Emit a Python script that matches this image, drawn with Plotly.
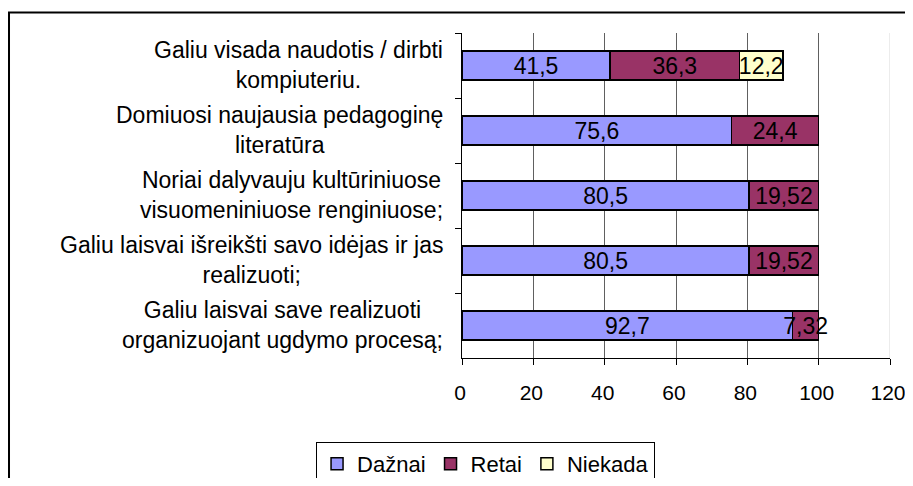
import plotly.graph_objects as go

categories = [
    "Galiu visada naudotis / dirbti<br>kompiuteriu.",
    "Domiuosi naujausia pedagoginę<br>literatūra",
    "Noriai dalyvauju kultūriniuose<br>visuomeniniuose renginiuose;",
    "Galiu laisvai išreikšti savo idėjas ir jas<br>realizuoti;",
    "Galiu laisvai save realizuoti<br>organizuojant ugdymo procesą;",
]
cat_ids = ["c1", "c2", "c3", "c4", "c5"]
daznai = [41.5, 75.6, 80.5, 80.5, 92.7]
retai = [36.3, 24.4, 19.52, 19.52, 7.32]
niekada = [12.2, None, None, None, None]
series_names = ["Dažnai", "Retai", "Niekada"]
series_colors = ["#9999FF", "#993366", "#FFFFCC"]
x_ticks = [0, 20, 40, 60, 80, 100, 120]

FONT = "Liberation Sans, Arial, sans-serif"


def fmt(v):
    return "" if v is None else str(v).replace(".", ",")


fig = go.Figure()
for name, vals, col in zip(series_names, [daznai, retai, niekada], series_colors):
    fig.add_trace(go.Bar(
        y=cat_ids, x=vals, name=name, orientation="h",
        marker=dict(color=col, line=dict(color="black", width=1.5)),
        text=[fmt(v) for v in vals], textposition="inside",
        insidetextanchor="middle", textangle=0, constraintext="none",
        textfont=dict(family=FONT, size=23, color="black"),
    ))

annotations = []
for cid, lab in zip(cat_ids, categories):
    annotations.append(dict(
        x=-0.04, xref="paper", y=cid, yref="y", yshift=1, text=lab,
        xanchor="right", yanchor="middle", align="center", showarrow=False,
        font=dict(family=FONT, size=23, color="black"),
    ))

fig.update_layout(
    width=905, height=470,
    margin=dict(l=454, r=23, t=25, b=120, autoexpand=False),
    paper_bgcolor="white", plot_bgcolor="white",
    barmode="stack", bargap=0.56,
    font=dict(family=FONT, size=22, color="black"),
    showlegend=True,
    legend=dict(
        orientation="h", traceorder="normal",
        x=-0.341, xanchor="left", y=-0.258, yanchor="top",
        bordercolor="black", borderwidth=1, bgcolor="white",
        font=dict(family=FONT, size=22, color="black"),
    ),
    xaxis=dict(
        range=[0, 120], tickvals=x_ticks, ticktext=[str(t) for t in x_ticks],
        showgrid=True, gridcolor="#606060", gridwidth=1,
        zeroline=False, showline=True, linecolor="black", linewidth=1,
        ticks="outside", ticklen=6, tickcolor="black",
        ticklabelstandoff=10, ticklabelshift=-2,
        tickfont=dict(family=FONT, size=21, color="black"),
    ),
    yaxis=dict(
        categoryorder="array", categoryarray=cat_ids, autorange="reversed",
        showticklabels=False, showgrid=False, zeroline=False,
        showline=True, linecolor="black", linewidth=1,
        ticks="outside", ticklen=6, tickcolor="black", tickson="boundaries",
    ),
    annotations=annotations,
    shapes=[
        dict(type="line", xref="x", yref="paper", x0=120, x1=120, y0=0, y1=1,
             line=dict(color="#d8d8d8", width=1), layer="above"),
        dict(type="rect", xref="paper", yref="paper",
             x0=-1.0584, x1=1.07, y0=-0.45, y1=1.063,
             line=dict(color="black", width=2), fillcolor="rgba(0,0,0,0)"),
    ],
)

fig.write_html("out.html")
